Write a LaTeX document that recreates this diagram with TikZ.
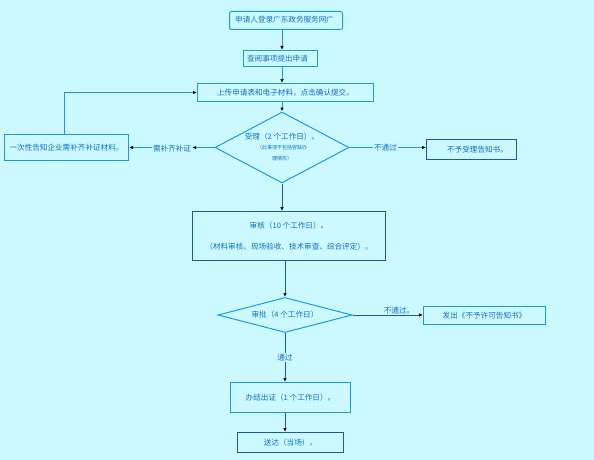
\documentclass[tikz,border=0pt]{standalone}
\usepackage{fontspec}
\setmainfont{Noto Sans CJK SC}
\usetikzlibrary{shapes.geometric,arrows.meta}
\definecolor{bg}{HTML}{CCF9FF}
\definecolor{lb}{HTML}{1A9BE0}
\definecolor{db}{HTML}{1F5A96}
\definecolor{tx}{HTML}{1070C0}
\tikzset{
  fnt/.style={font=\fontsize{7.6}{9}\selectfont},
  box/.style={draw=lb,line width=1pt,fill=bg,text=tx,inner sep=0pt,anchor=north west,fnt},
  dbox/.style={box,draw=db},
  dia/.style={draw=lb,line width=1pt,shape=diamond,fill=bg,inner sep=0pt},
  dtext/.style={text=tx,inner sep=0pt,align=center,fnt},
  conn/.style={draw=lb,line width=0.9pt,-{Latex[length=4pt,width=3.5pt,color=black]}},
  dconn/.style={draw=db,line width=0.9pt,-{Latex[length=4pt,width=3.5pt,color=black]}},
  lbl/.style={text=tx,fnt,inner sep=1pt,fill=bg},
}
\begin{document}
\begin{tikzpicture}[x=1pt,y=-1pt]
\useasboundingbox[fill=bg] (0,0) rectangle (594,460);
% boxes
\node[box,rounded corners=2pt,minimum width=113pt,minimum height=18pt] (b1) at (229,11) {};
\node[text=tx,fnt,anchor=west,inner sep=0pt] (b1t) at (235,20) {申请人登录广东政务服务网广};
\node[box,minimum width=74pt,minimum height=16pt] (b2) at (243,50) {\hspace*{2pt}查阅事项提出申请\hspace*{8pt}};
\node[box,minimum width=176pt,minimum height=18pt] (b3) at (197,83) {上传申请表和电子材料，点击确认提交。};
\node[dia,minimum width=134pt,minimum height=71pt] (d1) at (282,147.5) {};
\node[dtext] (d1t) at (282,147) {受理（2 个工作日）。\\[1pt]{\fontsize{5}{6}\selectfont （此事项不包括容缺办}\\[2pt]{\fontsize{5}{6}\selectfont 理情形）}};
\node[box,minimum width=124pt,minimum height=26pt] (bl) at (4,134) {一次性告知企业需补齐补证材料。};
\node[dbox,minimum width=90pt,minimum height=20pt] (br1) at (426,139) {\hspace*{12pt}不予受理告知书。};
\node[dbox,minimum width=193pt,minimum height=49pt,align=center] (b4) at (192,211) {审核（10 个工作日）。\\[12pt]（材料审核、现场验收、技术审查、综合评定）。};
\node[dia,minimum width=134pt,minimum height=35pt] (d2) at (285,315) {};
\node[dtext] (d2t) at (285,315) {审批（4 个工作日）};
\node[box,minimum width=122pt,minimum height=18pt] (br2) at (423,306) {发出《不予许可告知书》};
\node[box,minimum width=120pt,minimum height=30pt] (b5) at (230,382) {办结出证（1 个工作日）。};
\node[dbox,minimum width=106pt,minimum height=20pt] (b6) at (237,432) {送达（当场）。};
% labels
\node[lbl] (l1) at (172,149) {需补齐补证};
% connectors
\draw[conn] (b1.south -| d1.north) coordinate (c1) -- (c1 |- b2.north);
\draw[conn] (b2.south -| d1.north) coordinate (c2) -- (c2 |- b3.north);
\draw[conn] (b3.south -| d1.north) -- (d1.north);
\draw[conn] (d1.west) -- (l1.east |- d1.west);
\draw[conn] (l1.west |- d1.west) -- (bl.east |- d1.west);
\draw[conn] (bl.north -| 64,0) coordinate (c3) -- (c3 |- b3.west) -- (b3.west);
\draw[conn] (d1.east) -- (d1.east -| br1.west) node[lbl,pos=0.47] (l2) {不通过};
\draw[dconn] (d1.south) -- (d1.south |- b4.north);
\draw[dconn] (b4.south -| d2.north) -- (d2.north);
\draw[dconn] (d2.east) -- (d2.east -| br2.west) node[lbl,pos=0.66,above=-1pt,fill=none] (l3) {不通过。};
\draw[dconn] (d2.south) -- (d2.south |- b5.north) node[lbl,pos=0.5] (l4) {通过};
\draw[dconn] (b5.south -| d2.south) -- (d2.south |- b6.north);
\end{tikzpicture}
\end{document}
